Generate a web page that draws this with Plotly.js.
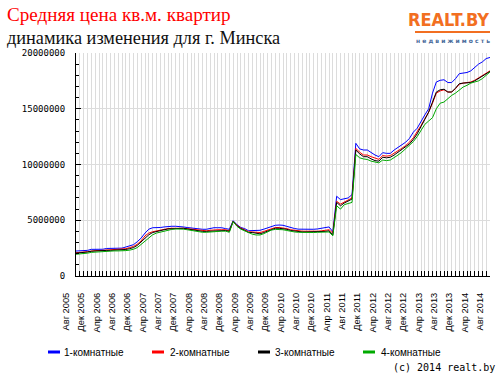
<!DOCTYPE html>
<html>
<head>
<meta charset="utf-8">
<script src="https://cdn.plot.ly/plotly-3.0.1.min.js"></script>
<style>html,body{margin:0;padding:0;background:#fff;}#chart{width:500px;height:375px;}</style>
</head>
<body>
<div id="chart"></div>
<script>
// Month tick labels (every 4 months from Aug 2005 to Aug 2014)
var tickLabels = ['Авг 2005','Дек 2005','Апр 2006','Авг 2006','Дек 2006','Апр 2007','Авг 2007','Дек 2007',
  'Апр 2008','Авг 2008','Дек 2008','Апр 2009','Авг 2009','Дек 2009','Апр 2010','Авг 2010','Дек 2010',
  'Апр 2011','Авг 2011','Дек 2011','Апр 2012','Авг 2012','Дек 2012','Апр 2013','Авг 2013','Дек 2013',
  'Апр 2014','Авг 2014'];
var seriesNames = ['1-комнатные','2-комнатные','3-комнатные','4-комнатные'];

// Monthly average price per sq.m (BYR), Aug 2005 .. Aug 2014
var room1 = [2.24e6,2.24e6,2.28e6,2.30e6,2.39e6,2.39e6,2.39e6,2.40e6,2.47e6,2.48e6,
  2.48e6,2.48e6,2.50e6,2.60e6,2.68e6,2.81e6,3.08e6,3.40e6,3.85e6,4.20e6,
  4.33e6,4.33e6,4.35e6,4.40e6,4.46e6,4.46e6,4.46e6,4.46e6,4.40e6,4.35e6,
  4.30e6,4.25e6,4.20e6,4.19e6,4.19e6,4.28e6,4.33e6,4.33e6,4.33e6,4.25e6,
  4.19e6,4.96e6,4.60e6,4.35e6,4.25e6,4.06e6,4.06e6,4.08e6,4.10e6,4.20e6,
  4.30e6,4.40e6,4.55e6,4.57e6,4.55e6,4.45e6,4.32e6,4.26e6,4.20e6,4.19e6,
  4.19e6,4.19e6,4.19e6,4.22e6,4.28e6,4.30e6,4.40e6,3.97e6,7.15e6,6.85e6,
  6.95e6,7.00e6,7.30e6,11.90e6,11.40e6,11.30e6,11.30e6,11.05e6,10.85e6,10.70e6,
  11.06e6,11.00e6,11.00e6,11.30e6,11.55e6,11.75e6,12.00e6,12.35e6,12.90e6,13.25e6,
  13.90e6,14.45e6,15.00e6,16.40e6,17.40e6,17.55e6,17.60e6,17.35e6,17.35e6,17.70e6,
  18.15e6,18.20e6,18.25e6,18.40e6,18.70e6,19.00e6,19.20e6,19.50e6,19.60e6];
var room2 = [2.09e6,2.09e6,2.15e6,2.18e6,2.25e6,2.28e6,2.28e6,2.30e6,2.32e6,2.35e6,
  2.35e6,2.35e6,2.38e6,2.45e6,2.55e6,2.65e6,2.85e6,3.15e6,3.60e6,3.85e6,
  3.97e6,4.05e6,4.15e6,4.20e6,4.25e6,4.28e6,4.30e6,4.30e6,4.28e6,4.25e6,
  4.20e6,4.15e6,4.10e6,4.08e6,4.05e6,4.10e6,4.15e6,4.15e6,4.15e6,4.15e6,
  4.05e6,4.90e6,4.55e6,4.30e6,4.15e6,3.97e6,3.95e6,3.90e6,3.90e6,4.00e6,
  4.12e6,4.25e6,4.35e6,4.35e6,4.33e6,4.25e6,4.15e6,4.10e6,4.05e6,4.02e6,
  4.02e6,4.00e6,4.00e6,4.02e6,4.05e6,4.10e6,4.15e6,3.85e6,6.70e6,6.45e6,
  6.65e6,6.80e6,7.00e6,11.45e6,11.10e6,10.85e6,10.85e6,10.70e6,10.55e6,10.46e6,
  10.80e6,10.75e6,10.80e6,11.00e6,11.25e6,11.45e6,11.70e6,12.00e6,12.40e6,12.90e6,
  13.50e6,14.10e6,14.70e6,15.50e6,16.40e6,16.60e6,16.70e6,16.50e6,16.50e6,16.80e6,
  17.20e6,17.30e6,17.35e6,17.40e6,17.55e6,17.75e6,17.95e6,18.20e6,18.40e6];
var room3 = [2.05e6,2.07e6,2.12e6,2.15e6,2.22e6,2.25e6,2.25e6,2.27e6,2.30e6,2.30e6,
  2.32e6,2.32e6,2.33e6,2.38e6,2.45e6,2.55e6,2.75e6,3.05e6,3.40e6,3.70e6,
  3.90e6,4.00e6,4.08e6,4.15e6,4.22e6,4.25e6,4.28e6,4.28e6,4.28e6,4.22e6,
  4.15e6,4.10e6,4.05e6,4.00e6,4.00e6,4.02e6,4.05e6,4.08e6,4.08e6,4.08e6,
  4.00e6,4.90e6,4.50e6,4.25e6,4.10e6,3.90e6,3.90e6,3.82e6,3.78e6,3.90e6,
  4.05e6,4.20e6,4.28e6,4.28e6,4.25e6,4.18e6,4.08e6,4.02e6,3.98e6,3.95e6,
  3.95e6,3.95e6,3.95e6,3.98e6,4.00e6,4.00e6,4.05e6,3.70e6,6.60e6,6.30e6,
  6.55e6,6.70e6,6.90e6,11.30e6,10.95e6,10.70e6,10.70e6,10.50e6,10.35e6,10.30e6,
  10.65e6,10.60e6,10.65e6,10.85e6,11.10e6,11.30e6,11.55e6,11.85e6,12.25e6,12.75e6,
  13.40e6,14.00e6,14.70e6,15.60e6,16.50e6,16.70e6,16.75e6,16.50e6,16.50e6,16.85e6,
  17.25e6,17.30e6,17.30e6,17.35e6,17.50e6,17.70e6,17.90e6,18.10e6,18.35e6];
var room4 = [1.95e6,1.97e6,2.02e6,2.05e6,2.12e6,2.15e6,2.15e6,2.18e6,2.22e6,2.22e6,
  2.25e6,2.25e6,2.25e6,2.28e6,2.32e6,2.40e6,2.55e6,2.85e6,3.15e6,3.45e6,
  3.70e6,3.85e6,3.95e6,4.05e6,4.12e6,4.18e6,4.22e6,4.22e6,4.20e6,4.15e6,
  4.08e6,4.02e6,3.95e6,3.92e6,3.92e6,3.95e6,4.00e6,4.02e6,4.02e6,4.02e6,
  3.92e6,4.88e6,4.45e6,4.20e6,4.05e6,3.85e6,3.75e6,3.68e6,3.68e6,3.80e6,
  3.98e6,4.12e6,4.18e6,4.19e6,4.15e6,4.08e6,4.00e6,3.95e6,3.92e6,3.90e6,
  3.90e6,3.90e6,3.90e6,3.92e6,3.92e6,3.95e6,3.95e6,3.60e6,6.30e6,6.00e6,
  6.40e6,6.50e6,6.60e6,10.90e6,10.60e6,10.50e6,10.45e6,10.30e6,10.20e6,10.15e6,
  10.40e6,10.35e6,10.40e6,10.60e6,10.85e6,11.10e6,11.40e6,11.70e6,12.05e6,12.50e6,
  13.10e6,13.60e6,13.90e6,14.20e6,15.00e6,15.50e6,15.60e6,15.90e6,16.20e6,16.40e6,
  16.70e6,16.95e6,17.10e6,17.30e6,17.40e6,17.50e6,17.70e6,18.00e6,18.30e6];

var colors = ['#0000ff','#ff0000','#000000','#00aa00'];
var allSeries = [room1, room2, room3, room4];
var monthIdx = room1.map(function(_, i){ return i; });
var tickVals = tickLabels.map(function(_, i){ return i * 4; });

var traces = allSeries.map(function(s, k){
  return {x: monthIdx, y: s, type: 'scatter', mode: 'lines', name: seriesNames[k],
          line: {color: colors[k], width: 1}, hoverinfo: 'skip'};
});

// pixel -> paper helpers (plot area: x 76..490, y 53..276)
function PX(x){ return (x - 76) / 414; }
function PY(y){ return (276 - y) / 223; }

var annotations = [
  {text: 'Средняя цена кв.м. квартир', xref:'paper', yref:'paper', x: PX(5), y: PY(15), xanchor:'left', yanchor:'middle',
   showarrow:false, font:{family:'Liberation Serif, Times New Roman, serif', size:19.1, color:'#ff0000'}},
  {text: 'динамика изменения для г. Минска', xref:'paper', yref:'paper', x: PX(5), y: PY(38), xanchor:'left', yanchor:'middle',
   showarrow:false, font:{family:'Liberation Serif, Times New Roman, serif', size:18.3, color:'#111111'}},
  {text: '<b>REALT.BY</b>', xref:'paper', yref:'paper', x: PX(491), y: PY(19), xanchor:'right', yanchor:'middle',
   showarrow:false, font:{family:'DejaVu Sans Condensed, DejaVu Sans, sans-serif', size:18, color:'#f26f21'}},
  {text: '<b>н е д в и ж и м о с т ь</b>', xref:'paper', yref:'paper', x: PX(452.5), y: PY(40), xanchor:'center', yanchor:'middle',
   showarrow:false, font:{family:'DejaVu Sans, sans-serif', size:6, color:'#4a6b9b'}},
  {text: '(c) 2014 realt.by', xref:'paper', yref:'paper', x: PX(497), y: PY(367), xanchor:'right', yanchor:'middle',
   showarrow:false, font:{family:'DejaVu Sans Mono, monospace', size:10, color:'#000000'}}
];
var shapes = [
  {type:'line', xref:'paper', yref:'paper', x0: PX(415), x1: PX(490), y0: PY(32), y1: PY(32), line:{color:'#f26f21', width:2}}
];
var legendPos = [[48, 62], [152, 168], [258, 273], [363, 379]];
seriesNames.forEach(function(n, k){
  shapes.push({type:'line', xref:'paper', yref:'paper', x0: PX(legendPos[k][0]), x1: PX(legendPos[k][0] + 12),
               y0: PY(352), y1: PY(352), line:{color: colors[k], width:3}});
  annotations.push({text: n, xref:'paper', yref:'paper', x: PX(legendPos[k][1]), y: PY(352), xanchor:'left', yanchor:'middle',
                    showarrow:false, font:{family:'Liberation Sans, Arial, sans-serif', size:10, color:'#000000'}});
});

var layout = {
  width: 500, height: 375,
  margin: {l: 76, r: 10, t: 53, b: 99, pad: 0},
  paper_bgcolor: '#ffffff', plot_bgcolor: '#ffffff',
  showlegend: false,
  xaxis: {
    range: [0, 108], showline: true, linecolor: '#000000', linewidth: 1, zeroline: false,
    tickmode: 'array', tickvals: tickVals, ticktext: tickLabels, tickangle: -90,
    ticks: 'inside', ticklen: 5, tickcolor: '#000000', tickwidth: 1,
    showgrid: true, gridcolor: '#dcdcdc', gridwidth: 1,
    minor: {dtick: 1, tick0: 0, ticks: 'inside', ticklen: 5, tickcolor: '#000000', showgrid: true, gridcolor: '#dcdcdc', gridwidth: 1},
    tickfont: {family: 'Liberation Sans, Arial, sans-serif', size: 9.3, color: '#000000'},
    ticklabelshift: -10, ticklabelstandoff: 12
  },
  yaxis: {
    range: [0, 20000000], showline: true, linecolor: '#000000', linewidth: 1, zeroline: false,
    tickmode: 'array', tickvals: [0, 5000000, 10000000, 15000000, 20000000], tickformat: 'd',
    ticks: 'inside', ticklen: 5, tickcolor: '#000000', tickwidth: 1,
    showgrid: true, gridcolor: '#dcdcdc', gridwidth: 1,
    minor: {dtick: 1000000, tick0: 0, ticks: 'inside', ticklen: 3, tickcolor: '#000000', showgrid: false},
    tickfont: {family: 'DejaVu Sans Mono, monospace', size: 9, color: '#000000'},
    ticklabelstandoff: 8
  },
  annotations: annotations,
  shapes: shapes
};

Plotly.newPlot('chart', traces, layout, {staticPlot: true, displayModeBar: false});
</script>
</body>
</html>
